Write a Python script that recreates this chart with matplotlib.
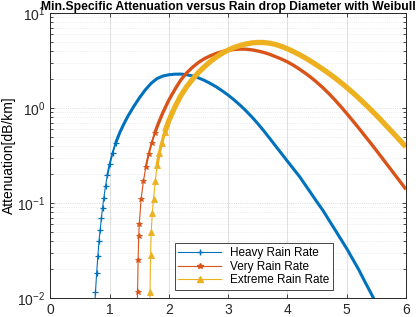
import matplotlib
matplotlib.use("Agg")
import matplotlib.pyplot as plt
from matplotlib.lines import Line2D
from matplotlib.ticker import LogLocator, NullFormatter

plt.rcParams['font.family'] = ['Liberation Sans', 'DejaVu Sans']

# Heavy Rain Rate
heavy_d = [0.74, 0.76, 0.78, 0.80, 0.82, 0.84, 0.86, 0.88, 0.90, 0.93, 0.96, 1.00,
           1.05, 1.10, 1.17, 1.23, 1.30, 1.40, 1.50, 1.60, 1.70, 1.80, 1.90, 2.00,
           2.10, 2.20, 2.30, 2.40, 2.50, 2.60, 2.70, 2.80, 2.90, 3.00, 3.10, 3.20,
           3.30, 3.40, 3.50, 3.60, 3.70, 3.80, 3.90, 4.00, 4.10, 4.20, 4.30, 4.40,
           4.50, 4.60, 4.70, 4.80, 4.90, 5.00, 5.10, 5.20, 5.30, 5.40, 5.50]
heavy_att = [0.00708, 0.0115, 0.0182, 0.0275, 0.0398, 0.0525, 0.0692, 0.0891, 0.112,
             0.151, 0.195, 0.257, 0.339, 0.427, 0.550, 0.661, 0.804, 1.023, 1.274,
             1.549, 1.820, 2.042, 2.173, 2.239, 2.270, 2.275, 2.239, 2.173, 2.075,
             1.950, 1.811, 1.667, 1.514, 1.365, 1.216, 1.072, 0.933, 0.804, 0.684,
             0.575, 0.479, 0.398, 0.331, 0.275, 0.229, 0.191, 0.155, 0.126, 0.102,
             0.0832, 0.0661, 0.0525, 0.0417, 0.0331, 0.0257, 0.0200, 0.0151, 0.0115,
             0.0087]

# Very Rain Rate
very_d = [1.46, 1.47, 1.48, 1.49, 1.50, 1.53, 1.57, 1.61, 1.66, 1.71, 1.76, 1.82,
          1.90, 2.00, 2.10, 2.20, 2.30, 2.40, 2.50, 2.60, 2.70, 2.80, 2.90, 3.00,
          3.10, 3.20, 3.30, 3.40, 3.50, 3.60, 3.70, 3.80, 3.90, 4.00, 4.10, 4.20,
          4.30, 4.40, 4.50, 4.60, 4.70, 4.80, 4.90, 5.00, 5.10, 5.20, 5.30, 5.40,
          5.50, 5.60, 5.70, 5.80, 5.90, 6.00]
very_att = [0.0050, 0.0115, 0.0251, 0.0447, 0.0603, 0.110, 0.170, 0.240, 0.331,
            0.432, 0.543, 0.684, 0.902, 1.216, 1.567, 1.972, 2.344, 2.692, 3.020,
            3.311, 3.548, 3.758, 3.917, 4.046, 4.130, 4.169, 4.159, 4.093, 3.981,
            3.846, 3.673, 3.467, 3.273, 3.055, 2.818, 2.570, 2.328, 2.089, 1.854,
            1.629, 1.416, 1.216, 1.035, 0.875, 0.736, 0.617, 0.515, 0.430, 0.357,
            0.296, 0.245, 0.203, 0.168, 0.139]

# Extreme Rain Rate
extreme_d = [1.67, 1.68, 1.69, 1.70, 1.72, 1.74, 1.77, 1.80, 1.84, 1.88, 1.93, 2.00,
             2.10, 2.20, 2.30, 2.40, 2.50, 2.60, 2.70, 2.80, 2.90, 3.00, 3.10, 3.20,
             3.30, 3.40, 3.50, 3.60, 3.70, 3.80, 3.90, 4.00, 4.10, 4.20, 4.30, 4.40,
             4.50, 4.60, 4.70, 4.80, 4.90, 5.00, 5.10, 5.20, 5.30, 5.40, 5.50, 5.60,
             5.70, 5.80, 5.90, 6.00]
extreme_att = [0.0050, 0.0115, 0.0282, 0.0490, 0.0794, 0.111, 0.170, 0.251, 0.339,
               0.432, 0.556, 0.741, 1.023, 1.349, 1.679, 2.018, 2.371, 2.723, 3.090,
               3.443, 3.776, 4.074, 4.335, 4.550, 4.721, 4.842, 4.898, 4.887, 4.808,
               4.656, 4.446, 4.198, 3.926, 3.648, 3.365, 3.083, 2.812, 2.553, 2.307,
               2.075, 1.854, 1.648, 1.455, 1.276, 1.114, 0.968, 0.838, 0.721, 0.619,
               0.531, 0.454, 0.389]

labels = ['Heavy Rain Rate', 'Very Rain Rate', 'Extreme Rain Rate']
colors = ['#0072BD', '#D95319', '#EDB120']
markers = ['+', '*', '^']

fig = plt.figure(figsize=(4.18, 3.17), dpi=100)
ax = fig.add_axes([0.1206, 0.060, 0.8507, 0.899])

# steep part: thin line with visible markers, flat part: markers merge -> thick line
series = [(heavy_d, heavy_att, 13, 2.2, 4.5, 0.9),
          (very_d, very_att, 10, 2.4, 4.0, 0.6),
          (extreme_d, extreme_att, 10, 3.8, 4.5, 0.6)]
for (d, a, k, lw, ms, mew), c, m in zip(series, colors, markers):
    ax.semilogy(d[:k + 1], a[:k + 1], color=c, lw=0.8, marker=m, ms=ms, mew=mew)
    ax.semilogy(d[k - 3:k + 1], a[k - 3:k + 1], color=c, lw=lw * 0.6,
                solid_capstyle='butt')
    ax.semilogy(d[k:], a[k:], color=c, lw=lw, solid_capstyle='butt')

ax.set_xlim(0, 6)
ax.set_ylim(1e-2, 1e1)
ax.set_xticks(range(7))
ax.yaxis.set_minor_locator(LogLocator(base=10, subs=range(2, 10)))
ax.yaxis.set_minor_formatter(NullFormatter())

ax.grid(True, axis='x', which='major', color='#d9d9d9', lw=0.6)
ax.grid(True, axis='y', which='major', color='#d0d0d0', lw=0.6, ls=':')
ax.grid(True, axis='y', which='minor', color='#e0e0e0', lw=0.5, ls=':')

ax.tick_params(direction='in', top=True, right=True, labelsize=10, length=3,
               width=0.6, colors='#262626')
ax.tick_params(which='minor', direction='in', right=True, length=2, width=0.5)
for s in ax.spines.values():
    s.set_color('#262626')
    s.set_linewidth(0.7)

ax.set_ylabel('Attenuation[dB/km]', fontsize=10, labelpad=1)
ax.set_title('Min.Specific Attenuation versus Rain drop Diameter with Weibull',
             fontsize=8.7, fontweight='bold', pad=2)

handles = [Line2D([], [], color=c, lw=0.8, marker=m, ms=4) for c, m in zip(colors, markers)]
leg = ax.legend(handles, labels, loc='lower left', bbox_to_anchor=(0.35, 0.028),
                fontsize=8.5, fancybox=False, edgecolor='#262626', framealpha=1,
                handlelength=3.6, borderpad=0.3, labelspacing=0.15, borderaxespad=0,
                markerfirst=True)
leg.get_frame().set_linewidth(0.6)

fig.savefig('out.png', dpi=100)
